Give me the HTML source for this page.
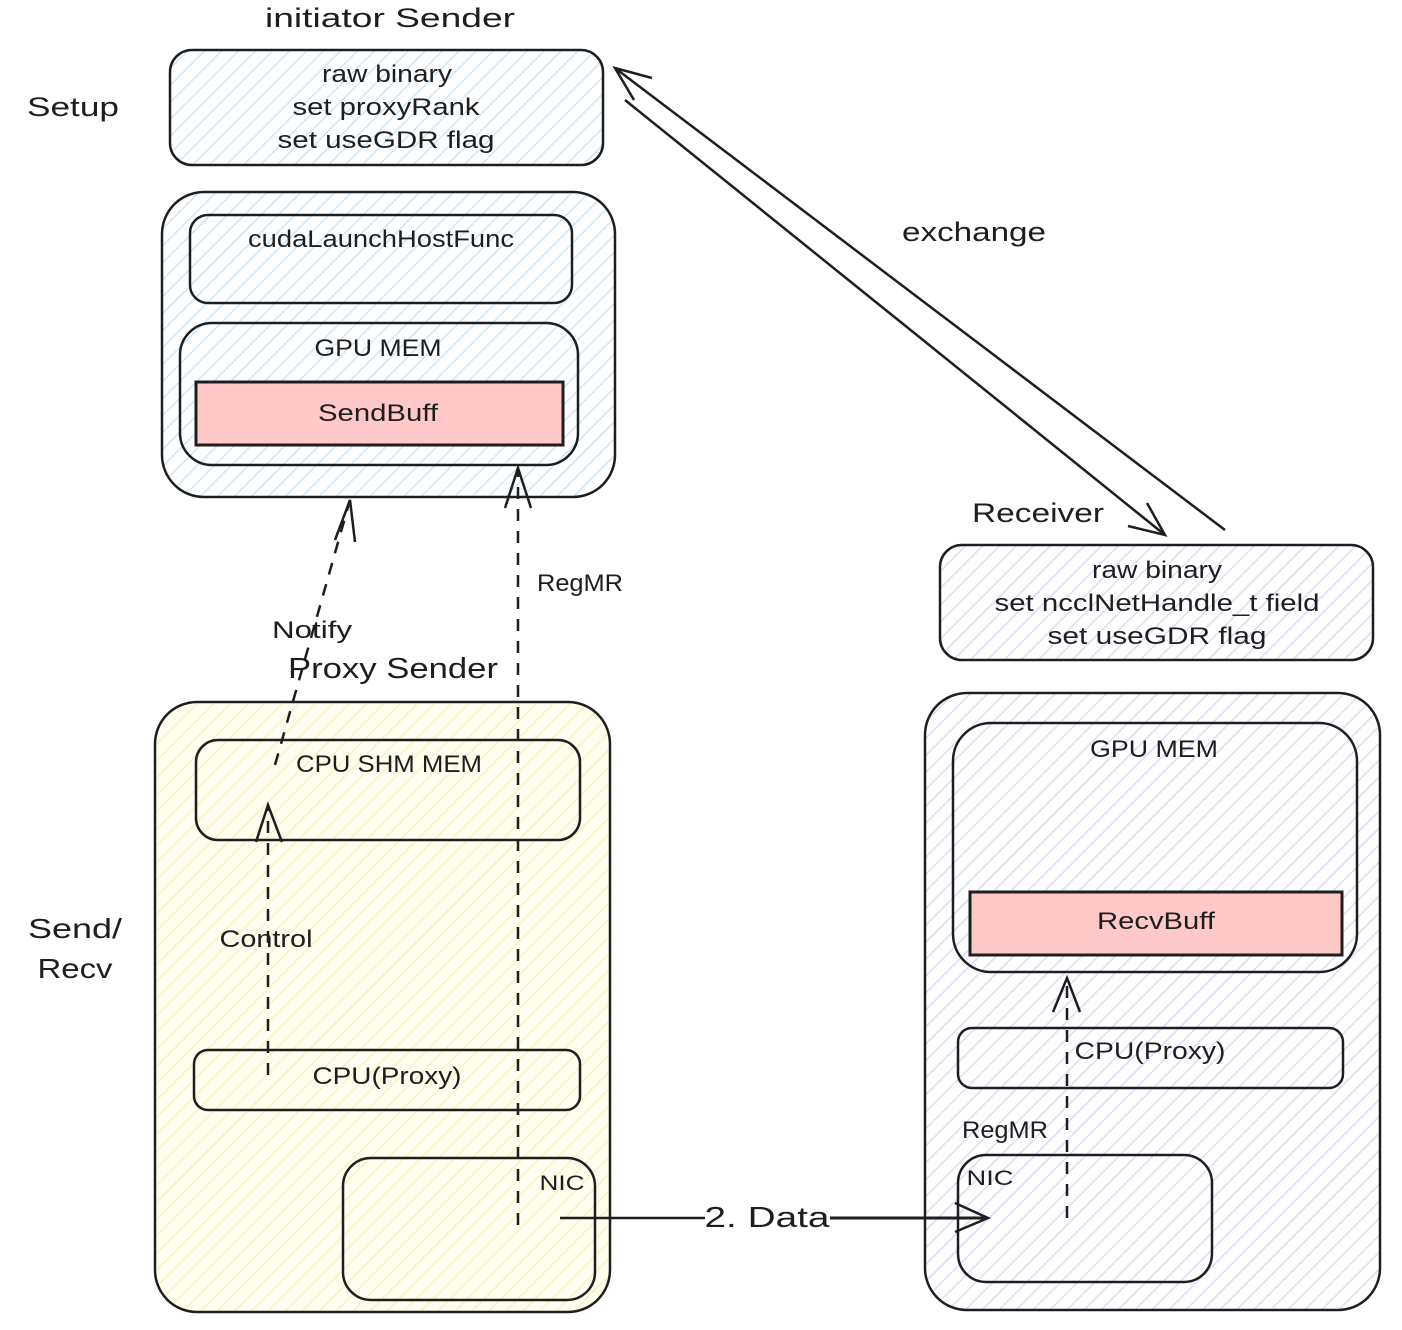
<!DOCTYPE html>
<html><head><meta charset="utf-8"><style>
html,body{margin:0;padding:0;background:#fff;}
svg{display:block;}
text{font-family:"Liberation Sans",sans-serif;fill:#1e1e1e;text-anchor:middle;}
</style></head><body>
<svg width="1402" height="1330" viewBox="0 0 1402 1330" xmlns="http://www.w3.org/2000/svg">
<defs>
<pattern id="hb" patternUnits="userSpaceOnUse" width="12" height="12" patternTransform="rotate(45)">
<rect width="12" height="12" fill="#fff"/><line x1="0" y1="0" x2="0" y2="12" stroke="#cfe6f7" stroke-width="3"/></pattern>
<pattern id="hy" patternUnits="userSpaceOnUse" width="12" height="12" patternTransform="rotate(45)">
<rect width="12" height="12" fill="#fffdf0"/><line x1="0" y1="0" x2="0" y2="12" stroke="#fbf0c4" stroke-width="3"/></pattern>
<pattern id="hp" patternUnits="userSpaceOnUse" width="12" height="12" patternTransform="rotate(45)">
<rect width="12" height="12" fill="#fff"/><line x1="0" y1="0" x2="0" y2="12" stroke="#dcdcf5" stroke-width="3"/></pattern>
</defs>
<g stroke="#1e1e1e" stroke-width="2.5" fill="none">
<rect x="170" y="50" width="433" height="115" rx="22" fill="url(#hb)"/>
<rect x="162" y="192" width="453" height="305" rx="42" fill="url(#hb)"/>
<rect x="190" y="215" width="382" height="88" rx="18" fill="none"/>
<rect x="180" y="323" width="398" height="142" rx="32" fill="none"/>
<rect x="196" y="382" width="367" height="63" fill="#ffc9c9" stroke-width="3"/>
<rect x="940" y="545" width="433" height="115" rx="22" fill="url(#hp)"/>
<rect x="155" y="702" width="455" height="610" rx="42" fill="url(#hy)"/>
<rect x="196" y="740" width="384" height="100" rx="22"/>
<rect x="194" y="1050" width="386" height="60" rx="14"/>
<rect x="343" y="1158" width="252" height="142" rx="28"/>
<rect x="925" y="693" width="455" height="617" rx="42" fill="url(#hp)"/>
<rect x="953" y="723" width="404" height="249" rx="38"/>
<rect x="970" y="892" width="372" height="63" fill="#ffc9c9" stroke-width="3"/>
<rect x="958" y="1028" width="385" height="60" rx="14"/>
<rect x="958" y="1155" width="254" height="127" rx="28"/>
<line x1="1225" y1="530" x2="615" y2="68"/>
<polyline points="652,78 615,68 634,100"/>
<line x1="625" y1="100" x2="1165" y2="535"/>
<polyline points="1128,526 1165,535 1147,503"/>
<g stroke-dasharray="12,10">
<line x1="275" y1="765" x2="350" y2="500"/>
<line x1="518" y1="1225" x2="518" y2="470"/>
<line x1="268" y1="1075" x2="268" y2="808"/>
<line x1="1067" y1="1218" x2="1067" y2="982"/>
</g>
<polyline points="335,540 350,500 355,542"/>
<polyline points="505,508 518,468 531,508"/>
<polyline points="256,842 268,805 282,842"/>
<polyline points="1053,1012 1067,978 1080,1012"/>
<line x1="560" y1="1218" x2="705" y2="1218"/>
<line x1="830" y1="1218" x2="988" y2="1218" stroke-width="3"/>
<polyline points="955,1203 988,1218 955,1232"/>
</g>
<g font-size="24" lengthAdjust="spacingAndGlyphs">
<text x="390" y="27" font-size="27" textLength="250" lengthAdjust="spacingAndGlyphs">initiator Sender</text>
<text x="73" y="116" font-size="27" textLength="92" lengthAdjust="spacingAndGlyphs">Setup</text>
<text x="387" y="82" textLength="130" lengthAdjust="spacingAndGlyphs">raw binary</text>
<text x="386" y="115" textLength="187" lengthAdjust="spacingAndGlyphs">set proxyRank</text>
<text x="386" y="148" textLength="217" lengthAdjust="spacingAndGlyphs">set useGDR flag</text>
<text x="381" y="247" textLength="266" lengthAdjust="spacingAndGlyphs">cudaLaunchHostFunc</text>
<text x="378" y="356" textLength="127" lengthAdjust="spacingAndGlyphs">GPU MEM</text>
<text x="378" y="421" textLength="120" lengthAdjust="spacingAndGlyphs">SendBuff</text>
<text x="974" y="241" font-size="27" textLength="144" lengthAdjust="spacingAndGlyphs">exchange</text>
<text x="1038" y="522" font-size="27" textLength="132" lengthAdjust="spacingAndGlyphs">Receiver</text>
<text x="1157" y="578" textLength="130" lengthAdjust="spacingAndGlyphs">raw binary</text>
<text x="1157" y="611" textLength="325" lengthAdjust="spacingAndGlyphs">set ncclNetHandle_t field</text>
<text x="1157" y="644" textLength="219" lengthAdjust="spacingAndGlyphs">set useGDR flag</text>
<text x="312" y="638" textLength="80" lengthAdjust="spacingAndGlyphs">Notify</text>
<text x="580" y="591" textLength="86" lengthAdjust="spacingAndGlyphs">RegMR</text>
<text x="393" y="678" font-size="29" textLength="210" lengthAdjust="spacingAndGlyphs">Proxy Sender</text>
<text x="389" y="772" textLength="186" lengthAdjust="spacingAndGlyphs">CPU SHM MEM</text>
<text x="266" y="947" textLength="93" lengthAdjust="spacingAndGlyphs">Control</text>
<text x="75" y="938" font-size="28" textLength="94" lengthAdjust="spacingAndGlyphs">Send/</text>
<text x="75" y="978" font-size="28" textLength="75" lengthAdjust="spacingAndGlyphs">Recv</text>
<text x="387" y="1084" textLength="149" lengthAdjust="spacingAndGlyphs">CPU(Proxy)</text>
<text x="562" y="1190" font-size="21" textLength="45" lengthAdjust="spacingAndGlyphs">NIC</text>
<text x="767" y="1227" font-size="29" textLength="125" lengthAdjust="spacingAndGlyphs">2. Data</text>
<text x="1154" y="757" textLength="128" lengthAdjust="spacingAndGlyphs">GPU MEM</text>
<text x="1156" y="929" textLength="118" lengthAdjust="spacingAndGlyphs">RecvBuff</text>
<text x="1150" y="1059" textLength="151" lengthAdjust="spacingAndGlyphs">CPU(Proxy)</text>
<text x="1005" y="1138" textLength="86" lengthAdjust="spacingAndGlyphs">RegMR</text>
<text x="990" y="1185" font-size="21" textLength="47" lengthAdjust="spacingAndGlyphs">NIC</text>
</g>
</svg>
</body></html>
